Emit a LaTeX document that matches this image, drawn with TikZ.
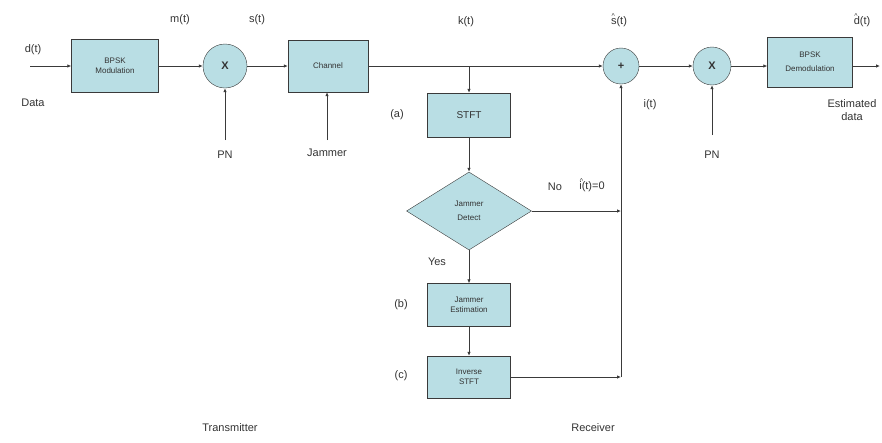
\documentclass[tikz,border=0pt]{standalone}
\usepackage{fontspec}
\setmainfont{Liberation Sans}
\usetikzlibrary{arrows.meta,shapes,calc,positioning}
\definecolor{boxblue}{HTML}{B9DEE4}
\definecolor{linegray}{HTML}{3A3A3A}
\newcommand{\hatted}[1]{\rlap{\hspace{0.6pt}\raisebox{6.5pt}{\fontsize{7}{7}\selectfont\^{}}}#1}

\begin{document}
\begin{tikzpicture}[x=1pt,y=-1pt,
  every node/.style={font=\fontsize{11}{13}\selectfont,text=black!80},
  block/.style={draw=linegray,fill=boxblue,inner sep=1pt,align=center,
    font=\fontsize{8}{10}\selectfont},
  mixer/.style={draw=linegray,fill=boxblue,circle,inner sep=0pt,
    font=\bfseries\fontsize{11}{13}\selectfont},
  decide/.style={draw=linegray,fill=boxblue,diamond,inner sep=0pt,
    minimum width=125pt,minimum height=78pt,align=center,
    font=\fontsize{8}{14}\selectfont},
  wire/.style={draw=linegray,line width=0.8pt},
  ->/.style={wire,-{Latex[length=4pt,width=3.5pt]}},
]
\useasboundingbox (0,0) rectangle (882,442);

% the transmitter chain
\node[block,minimum width=87pt,minimum height=53pt] (mod) at (115,66) {BPSK\\Modulation};
\node[mixer,minimum size=44pt] (mix1) at (225,66) {X};
\node[block,minimum width=80pt,minimum height=52pt] (chan) at (328,66) {Channel};

% the receiver chain
\node[mixer,minimum size=36pt] (add) at (621,66) {+};
\node[mixer,minimum size=38pt] (mix2) at (712,66) {X};
\node[block,minimum width=85pt,minimum height=50pt] (demod) at (810,62) {BPSK\\[4pt]Demodulation};

% the jammer branch
\node[block,minimum width=83pt,minimum height=44pt] (stft) at (469,115) {\fontsize{10}{12}\selectfont STFT};
\node[decide] (detect) at (469,211) {Jammer\\Detect};
\node[block,minimum width=83pt,minimum height=43pt] (estim) at (469,305) {Jammer\\Estimation};
\node[block,minimum width=83pt,minimum height=42pt] (istft) at (469,377) {Inverse\\STFT};

% free ends
\coordinate (din) at (30,66);
\coordinate (pn1) at (225,140);
\coordinate (jam) at (327,140);
\coordinate (pn2) at (712,135);
\coordinate (dout) at (880,66);
\coordinate (split) at (469,66);
\coordinate (fbnull) at (621,211);
\coordinate (fbjam) at (621,377);

% the connectors
\draw[->] (din) -- (mod.west);
\draw[->] (mod.east) -- (mix1);
\draw[->] (pn1) -- (mix1);
\draw[->] (mix1) -- (chan.west);
\draw[->] (jam) -- (chan.south -| jam);
\draw[->] (chan.east) -- (add);
\draw[->] (split) -- (stft);
\draw[->] (stft) -- (detect);
\draw[->] (detect) -- (estim);
\draw[->] (estim) -- (istft);
\draw[->] (detect.east) -- (fbnull);
\draw[->] (istft.east) -- (fbjam);
\draw[->] (fbjam) -- (add);
\draw[->] (add) -- (mix2);
\draw[->] (pn2) -- (mix2);
\draw[->] (mix2) -- (mix2 -| demod.west);
\draw[->] (mix2 -| demod.east) -- (dout);

% the signal names
\node (dlab) at (33,50) {d(t)};
\node (datalab) at (33,103) {Data};
\node (mlab) at (180,20) {m(t)};
\node (slab) at (257,20) {s(t)};
\node (pnlab1) at (225,155) {PN};
\node (jamlab) at (327,153) {Jammer};
\node (klab) at (466,22) {k(t)};
\node (shatlab) at (619,20) {\hatted{s}(t)};
\node (ilab) at (650,105) {i(t)};
\node (pnlab2) at (712,155) {PN};
\node (dhatlab) at (862,20) {\hatted{d}(t)};
\node[align=center] (estlab) at (852,110) {Estimated\\data};
\node (nolab) at (555,187) {No};
\node (ihatlab) at (592,185) {\hatted{i}(t)=0};
\node (yeslab) at (437,262) {Yes};
\node (alab) at (397,115) {(a)};
\node (blab) at (401,305) {(b)};
\node (clab) at (401,376) {(c)};
\node (txlab) at (230,428) {Transmitter};
\node (rxlab) at (593,428) {Receiver};
\end{tikzpicture}
\end{document}
